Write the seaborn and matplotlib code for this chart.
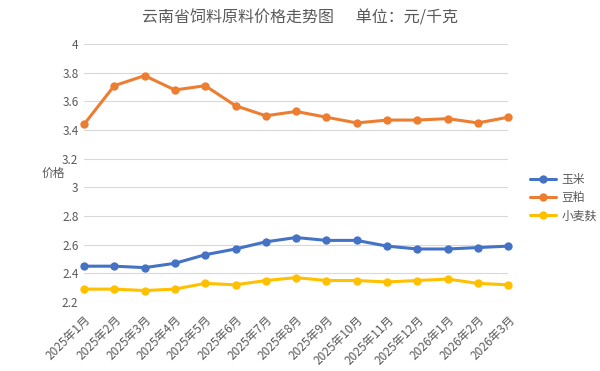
import pandas as pd
import seaborn as sns
import matplotlib.pyplot as plt

sns.set_theme(style="white")
plt.rcParams['font.family'] = ['Noto Sans CJK SC', 'DejaVu Sans']

months = ['2025年1月', '2025年2月', '2025年3月', '2025年4月', '2025年5月', '2025年6月',
          '2025年7月', '2025年8月', '2025年9月', '2025年10月', '2025年11月', '2025年12月',
          '2026年1月', '2026年2月', '2026年3月']
corn = [2.45, 2.45, 2.44, 2.47, 2.53, 2.57, 2.62, 2.65, 2.63, 2.63, 2.59, 2.57, 2.57, 2.58, 2.59]
soymeal = [3.44, 3.71, 3.78, 3.68, 3.71, 3.57, 3.50, 3.53, 3.49, 3.45, 3.47, 3.47, 3.48, 3.45, 3.49]
bran = [2.29, 2.29, 2.28, 2.29, 2.33, 2.32, 2.35, 2.37, 2.35, 2.35, 2.34, 2.35, 2.36, 2.33, 2.32]
series = ['玉米', '豆粕', '小麦麸']
colors = ['#4472C4', '#ED7D31', '#FFC000']

df = pd.DataFrame({'月份': months, '玉米': corn, '豆粕': soymeal, '小麦麸': bran})
df['pos'] = range(len(months))
df_long = pd.melt(df, id_vars=['月份', 'pos'], value_vars=series, var_name='品种', value_name='价格')

fig = plt.figure(figsize=(6, 3.71), dpi=100)
ax = fig.add_axes([0.14, 0.186, 0.707, 0.695])

sns.lineplot(data=df_long, x='pos', y='价格', hue='品种', hue_order=series,
             palette=colors, marker='o', markersize=6, markeredgewidth=0,
             linewidth=2.2, ax=ax, clip_on=False)

ax.set_xlim(0, len(months) - 1)
ax.set_ylim(2.2, 4.0)
ax.set_yticks([2.2, 2.4, 2.6, 2.8, 3.0, 3.2, 3.4, 3.6, 3.8, 4.0])
ax.set_yticklabels(['2.2', '2.4', '2.6', '2.8', '3', '3.2', '3.4', '3.6', '3.8', '4'])
ax.set_xticks(df['pos'])
ax.set_xticklabels(months, rotation=45, ha='right', rotation_mode='anchor')
ax.tick_params(axis='both', colors='#595959', labelsize=8.5, length=0, pad=4)
ax.tick_params(axis='x', pad=8)
ax.grid(axis='y', color='#D9D9D9', linewidth=0.8)
for s in ax.spines.values():
    s.set_visible(False)

ax.set_xlabel('')
ax.set_ylabel('价格', rotation=0, color='#595959', fontsize=8.5, labelpad=6, va='center')

ax.legend(loc='center left', bbox_to_anchor=(1.033, 0.405), frameon=False,
          fontsize=8.5, labelcolor='#595959', handlelength=2.2, handletextpad=0.4,
          labelspacing=0.45, borderaxespad=0.3)

fig.suptitle('云南省饲料原料价格走势图      单位：元/千克', x=0.5, y=0.975,
             fontsize=11.5, color='#595959')

fig.savefig('out.png', dpi=100)
